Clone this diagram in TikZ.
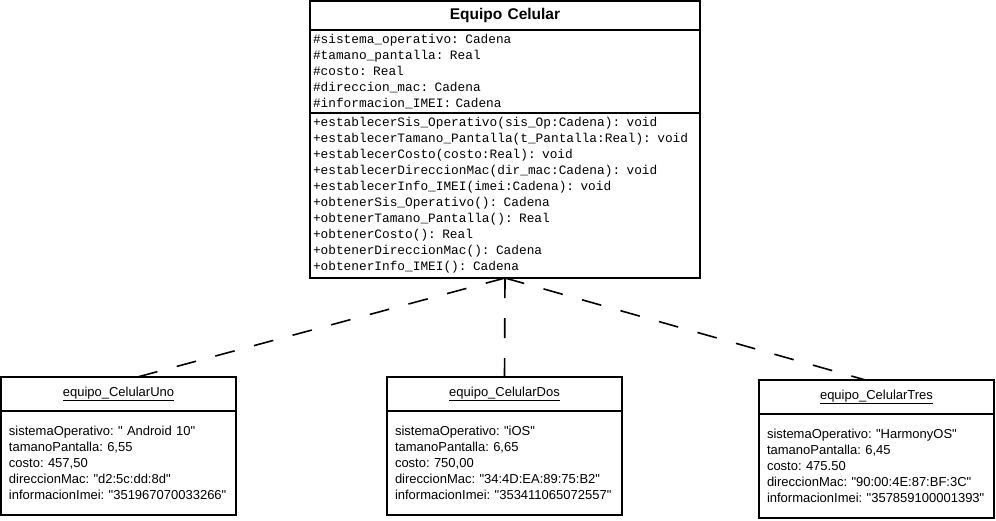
\documentclass[tikz,border=0pt]{standalone}
\usepackage{fontspec}
\setmainfont{Liberation Sans}
\setmonofont{Liberation Mono}
\newfontfamily\objfont{Liberation Sans}
\usetikzlibrary{positioning}

\begin{document}
\begin{tikzpicture}[x=1pt,y=1pt,node distance=0pt,
   clase/.style={draw,line width=1.2pt,outer sep=0pt,text width=384pt,inner xsep=3pt,inner ysep=1pt,
                 align=left,font=\ttfamily\fontsize{12.8}{16}\selectfont},
   titulo/.style={clase,align=center,minimum height=29pt,
                  font=\rmfamily\bfseries\fontsize{15.5}{18}\selectfont},
   objcab/.style={draw,line width=1.2pt,outer sep=0pt,text width=219pt,inner xsep=8pt,inner ysep=1pt,
                  align=center,minimum height=34pt,font=\objfont\frenchspacing\fontsize{13}{16}\selectfont},
   objcuerpo/.style={objcab,align=left,minimum height=104pt},
   enlace/.style={line width=1.6pt,dash pattern=on 20pt off 20pt}]
   \useasboundingbox (0,0) rectangle (996,-520);

   % clase
   \node[titulo,anchor=north west] (tit) at (310,-1) {Equipo Celular};
   \node[clase,below=of tit,minimum height=83pt] (atrib) {%
      \#sistema\_operativo: Cadena\\
      \#tamano\_pantalla: Real\\
      \#costo: Real\\
      \#direccion\_mac: Cadena\\
      \#informacion\_IMEI: Cadena};
   \node[clase,below=of atrib,minimum height=165pt] (metod) {%
      +establecerSis\_Operativo(sis\_Op:Cadena): void\\
      +establecerTamano\_Pantalla(t\_Pantalla:Real): void\\
      +establecerCosto(costo:Real): void\\
      +establecerDireccionMac(dir\_mac:Cadena): void\\
      +establecerInfo\_IMEI(imei:Cadena): void\\
      +obtenerSis\_Operativo(): Cadena\\
      +obtenerTamano\_Pantalla(): Real\\
      +obtenerCosto(): Real\\
      +obtenerDireccionMac(): Cadena\\
      +obtenerInfo\_IMEI(): Cadena};

   % objetos
   \node[objcab,anchor=north west] (uno) at (1,-377) {\underline{equipo\_CelularUno}};
   \node[objcuerpo,below=of uno] (unoval) {%
      sistemaOperativo: " Android 10"\\
      tamanoPantalla: 6,55\\
      costo: 457,50\\
      direccionMac: "d2:5c:dd:8d"\\
      informacionImei: "351967070033266"};

   \node[objcab,anchor=north west] (dos) at (387,-377) {\underline{equipo\_CelularDos}};
   \node[objcuerpo,below=of dos] (dosval) {%
      sistemaOperativo: "iOS"\\
      tamanoPantalla: 6,65\\
      costo: 750,00\\
      direccionMac: "34:4D:EA:89:75:B2"\\
      informacionImei: "353411065072557"};

   \node[objcab,anchor=north west] (tres) at (759,-380) {\underline{equipo\_CelularTres}};
   \node[objcuerpo,below=of tres] (tresval) {%
      sistemaOperativo: "HarmonyOS"\\
      tamanoPantalla: 6,45\\
      costo: 475.50\\
      direccionMac: "90:00:4E:87:BF:3C"\\
      informacionImei: "357859100001393"};

   \draw[enlace] (metod.south) -- ([xshift=19pt]uno.north);
   \draw[enlace] (metod.south) -- (dos.north);
   \draw[enlace] (metod.south) -- ([xshift=-11pt]tres.north);
\end{tikzpicture}
\end{document}
